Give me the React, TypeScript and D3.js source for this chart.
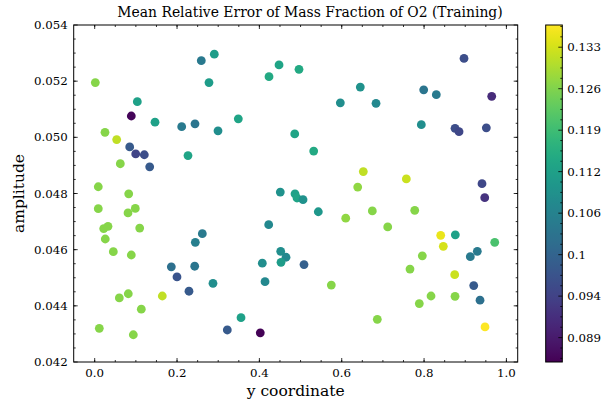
import React from 'react';
import * as d3 from 'd3';

const title = 'Mean Relative Error of Mass Fraction of O2 (Training)';
const xLabel = 'y coordinate';
const yLabel = 'amplitude';

const xs = [
  0.0015, 0.2589, 0.2905, 0.2776, 0.1035, 0.0889, 0.1465, 0.2113, 0.2436, 0.2995,
  0.025, 0.0534, 0.085, 0.0996, 0.1205, 0.1336, 0.2266, 0.0622, 0.0087,
  0.4477, 0.4962, 0.4234, 0.6451, 0.5966, 0.3488, 0.4858, 0.5319, 0.6524, 0.6388,
  0.897, 0.6833, 0.7991, 0.8297, 0.9643, 0.7933, 0.8752, 0.8849, 0.9512, 0.7569, 0.9407,
  0.0826, 0.0087, 0.0986, 0.0809, 0.0219, 0.0323, 0.1093, 0.0257, 0.0452, 0.0889,
  0.2614, 0.2444, 0.1861, 0.2429, 0.1999, 0.2873, 0.229, 0.1642, 0.0816, 0.0598,
  0.1132, 0.0112, 0.0938,
  0.4508, 0.4865, 0.4914, 0.506, 0.5431, 0.6097, 0.4226, 0.4518, 0.4647, 0.4525,
  0.4071, 0.5084, 0.4137, 0.5747, 0.3554, 0.3221, 0.4022,
  0.9473, 0.6743, 0.7773, 0.7117, 0.8404, 0.8759, 0.8467, 0.9716, 0.7957, 0.9123,
  0.9293, 0.7658, 0.8744, 0.9206, 0.8169, 0.8752, 0.7884, 0.9359, 0.6864, 0.948,
];

const ys = [
  0.05195, 0.05273, 0.05296, 0.05195, 0.05127, 0.05076, 0.05054, 0.05038, 0.05048, 0.05023,
  0.05018, 0.04992, 0.04966, 0.04941, 0.04938, 0.04895, 0.04935, 0.04906, 0.04824,
  0.05258, 0.05242, 0.05216, 0.05179, 0.05123, 0.05066, 0.05012, 0.04951, 0.04878, 0.04823,
  0.05281, 0.05121, 0.05169, 0.05152, 0.05146, 0.05045, 0.05032, 0.0502, 0.05034, 0.04852, 0.04835,
  0.04799, 0.04746, 0.04747, 0.04731, 0.04675, 0.04683, 0.04677, 0.04638, 0.04593, 0.04581,
  0.04657, 0.04626, 0.04539, 0.04541, 0.04503, 0.0448, 0.04452, 0.04435, 0.04443, 0.04428,
  0.04388, 0.0432, 0.04297,
  0.04805, 0.04799, 0.04784, 0.04778, 0.04735, 0.04712, 0.04689, 0.04594, 0.04573, 0.04555,
  0.04552, 0.04547, 0.04486, 0.04474, 0.04358, 0.04314, 0.04304,
  0.04785, 0.04738, 0.0474, 0.04681, 0.04651, 0.04653, 0.04612, 0.04626, 0.04578, 0.04575,
  0.04594, 0.04531, 0.04511, 0.04472, 0.04435, 0.04434, 0.04408, 0.0442, 0.04352, 0.04325,
];

const errs = [
  0.126, 0.1038, 0.1113, 0.111, 0.112, 0.0865, 0.112, 0.104, 0.103, 0.108,
  0.126, 0.131, 0.098, 0.0945, 0.096, 0.098, 0.113, 0.126, 0.126,
  0.113, 0.114, 0.114, 0.109, 0.108, 0.113, 0.113, 0.114, 0.131, 0.127,
  0.096, 0.107, 0.103, 0.104, 0.0911, 0.108, 0.096, 0.095, 0.096, 0.132, 0.095,
  0.126, 0.126, 0.126, 0.126, 0.126, 0.126, 0.126, 0.126, 0.126, 0.126,
  0.104, 0.105, 0.102, 0.103, 0.097, 0.108, 0.098, 0.131, 0.126, 0.126,
  0.126, 0.126, 0.126,
  0.109, 0.112, 0.113, 0.109, 0.11, 0.127, 0.107, 0.108, 0.107, 0.111,
  0.108, 0.099, 0.107, 0.126, 0.112, 0.098, 0.0862,
  0.092, 0.126, 0.126, 0.126, 0.135, 0.112, 0.133, 0.12, 0.126, 0.104,
  0.104, 0.126, 0.132, 0.098, 0.126, 0.126, 0.126, 0.102, 0.126, 0.137,
];

const xTicks = [0, 0.2, 0.4, 0.6, 0.8, 1.0];
const yTicks = [0.042, 0.044, 0.046, 0.048, 0.05, 0.052, 0.054];
const cbTicks = [0.08895, 0.09421, 0.09977, 0.10567, 0.11192, 0.11853, 0.12553, 0.13295];

const FONT = 'DejaVu Serif';

export default function App() {
  const W = 613, H = 407;
  const L = 73.7, R = 517.7, T = 25, B = 362;
  const cbL = 545.7, cbR = 562.3;
  const x = d3.scaleLinear().domain([-0.051, 1.0274]).range([L, R]);
  const y = d3.scaleLinear().domain([0.042, 0.054]).range([B, T]);
  const cDomain: [number, number] = [0.086, 0.1371];
  const color = d3.scaleSequentialLog(d3.interpolateViridis).domain(cDomain);
  const cbY = d3.scaleLog().domain(cDomain).range([B, T]);

  const xMinor = d3.range(-0.05, 1.03, 0.05).filter(v => x(v) > L + 0.5 && x(v) < R - 0.5);
  const yMinor = d3.range(0.042, 0.0541, 0.0005).filter(v => y(v) > T + 0.5 && y(v) < B - 0.5);
  const cbMinor: number[] = [];
  for (let i = 0; i < cbTicks.length + 1; i++) {
    const a = i === 0 ? cbTicks[0] / 1.0591 : cbTicks[i - 1];
    const b = i === cbTicks.length ? cbTicks[cbTicks.length - 1] * 1.0591 : cbTicks[i];
    for (let k = 1; k < 4; k++) {
      const v = a * Math.pow(b / a, k / 4);
      if (v > cDomain[0] && v < cDomain[1]) cbMinor.push(v);
    }
  }

  const fmtY = d3.format('.3f');
  const fmtX = d3.format('.1f');
  const fmtC = d3.format('.3~f');
  const stops = d3.range(0, 1.0001, 0.02);

  const pts = xs.map((v, i) => ({ x: v, y: ys[i], c: errs[i] }));

  return (
    <svg width={W} height={H} style={{ position: 'absolute', left: 0, top: 0, background: '#fff' }} fontFamily={FONT}>
      <defs>
        <linearGradient id="cb" x1="0" y1="1" x2="0" y2="0">
          {stops.map(t => (
            <stop key={t} offset={t} stopColor={d3.interpolateViridis(t)} />
          ))}
        </linearGradient>
        <clipPath id="plot"><rect x={L} y={T} width={R - L} height={B - T} /></clipPath>
      </defs>
      <rect x={0} y={0} width={W} height={H} fill="#fff" />
      <text x={310} y={17} textAnchor="middle" fontSize={13.9}>{title}</text>

      <g clipPath="url(#plot)">
        {pts.map((p, i) => (
          <circle key={i} cx={x(p.x)} cy={y(p.y)} r={4.4} fill={color(p.c)} />
        ))}
      </g>

      {/* ticks */}
      <g stroke="#000" strokeWidth={0.8}>
        {xTicks.map(v => (
          <g key={'xt' + v}>
            <line x1={x(v)} x2={x(v)} y1={B} y2={B - 4} />
            <line x1={x(v)} x2={x(v)} y1={T} y2={T + 4} />
          </g>
        ))}
        {xMinor.map(v => (
          <g key={'xm' + v}>
            <line x1={x(v)} x2={x(v)} y1={B} y2={B - 2} />
            <line x1={x(v)} x2={x(v)} y1={T} y2={T + 2} />
          </g>
        ))}
        {yTicks.map(v => (
          <g key={'yt' + v}>
            <line x1={L} x2={L + 4} y1={y(v)} y2={y(v)} />
            <line x1={R} x2={R - 4} y1={y(v)} y2={y(v)} />
          </g>
        ))}
        {yMinor.map(v => (
          <g key={'ym' + v}>
            <line x1={L} x2={L + 2} y1={y(v)} y2={y(v)} />
            <line x1={R} x2={R - 2} y1={y(v)} y2={y(v)} />
          </g>
        ))}
      </g>
      <rect x={L} y={T} width={R - L} height={B - T} fill="none" stroke="#000" strokeWidth={1} />

      <g fontSize={11.8}>
        {xTicks.map(v => (
          <text key={'xl' + v} x={x(v)} y={B + 15} textAnchor="middle">{fmtX(v)}</text>
        ))}
        {yTicks.map(v => (
          <text key={'yl' + v} x={L - 6} y={y(v) + 4} textAnchor="end">{fmtY(v)}</text>
        ))}
      </g>
      <text x={(L + R) / 2} y={396} textAnchor="middle" fontSize={15.5}>{xLabel}</text>
      <text transform={`translate(24,${(T + B) / 2}) rotate(-90)`} textAnchor="middle" fontSize={15.5}>{yLabel}</text>

      {/* colorbar */}
      <rect x={cbL} y={T} width={cbR - cbL} height={B - T} fill="url(#cb)" />
      <g stroke="#000" strokeWidth={0.8}>
        {cbTicks.map(v => (
          <line key={'ct' + v} x1={cbR} x2={cbR - 4} y1={cbY(v)} y2={cbY(v)} />
        ))}
        {cbMinor.map((v, i) => (
          <line key={'cm' + i} x1={cbR} x2={cbR - 2} y1={cbY(v)} y2={cbY(v)} />
        ))}
      </g>
      <rect x={cbL} y={T} width={cbR - cbL} height={B - T} fill="none" stroke="#000" strokeWidth={1} />
      <g fontSize={11.8}>
        {cbTicks.map(v => (
          <text key={'cl' + v} x={cbR + 5} y={cbY(v) + 4}>{fmtC(v)}</text>
        ))}
      </g>
    </svg>
  );
}
